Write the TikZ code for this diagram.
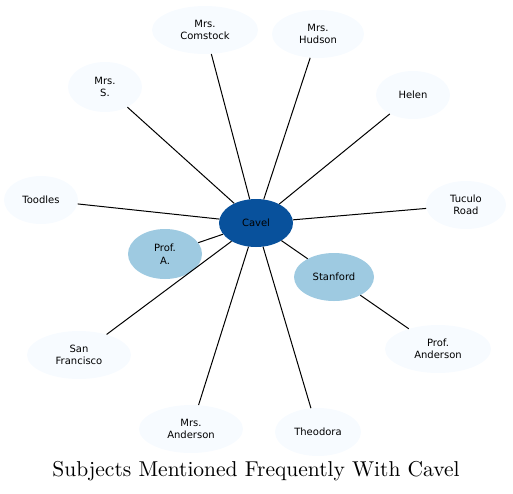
\documentclass[tikz,border=0pt]{standalone}
\usepackage{fontspec}
\newfontfamily\nodefont{DejaVu Sans}
\newfontfamily\titlefont{lmroman10-regular}[Extension=.otf]
\usetikzlibrary{shapes.geometric}
\definecolor{cdark}{HTML}{08519C}
\definecolor{cmid}{HTML}{9ECAE1}
\definecolor{cpale}{HTML}{F7FBFF}
\begin{document}
\begin{tikzpicture}[x=1pt,y=-1pt,
  ent/.style={ellipse,inner sep=0pt,align=center,font=\nodefont\fontsize{10}{12.5}\selectfont,text=black},
  hub/.style={ent,fill=cdark,minimum width=74pt,minimum height=48pt},
  mid/.style={ent,fill=cmid},
  far/.style={ent,fill=cpale},
  link/.style={draw=black,line width=1pt}]
\useasboundingbox (0,0) rectangle (513,493);
\node[hub] (cavel) at (256,223) {Cavel};
\node[mid,minimum width=74pt,minimum height=50pt] (profa) at (165,254) {Prof.\\A.};
\node[mid,minimum width=80pt,minimum height=48pt] (stanford) at (334,277) {Stanford};
\node[far,minimum width=106pt,minimum height=48pt] (comstock) at (205,30) {Mrs.\\Comstock};
\node[far,minimum width=92pt,minimum height=48pt] (hudson) at (318,34) {Mrs.\\Hudson};
\node[far,minimum width=74pt,minimum height=50pt] (mrss) at (105,87) {Mrs.\\S.};
\node[far,minimum width=74pt,minimum height=48pt] (helen) at (413,95) {Helen};
\node[far,minimum width=74pt,minimum height=48pt] (toodles) at (41,200) {Toodles};
\node[far,minimum width=80pt,minimum height=48pt] (tuculo) at (466,205) {Tuculo\\Road};
\node[far,minimum width=104pt,minimum height=48pt] (sanfran) at (79,355) {San\\Francisco};
\node[far,minimum width=106pt,minimum height=48pt] (profand) at (438,349) {Prof.\\Anderson};
\node[far,minimum width=104pt,minimum height=48pt] (mrsand) at (191,429) {Mrs.\\Anderson};
\node[far,minimum width=86pt,minimum height=48pt] (theodora) at (318,432) {Theodora};
\foreach \t in {profa,stanford,comstock,hudson,mrss,helen,toodles,tuculo,sanfran,mrsand,theodora}
  \draw[link] (cavel) -- (\t);
\draw[link] (stanford) -- (profand);
\node[font=\titlefont\fontsize{21.5}{25}\selectfont] (title) at (256,471) {Subjects Mentioned Frequently With Cavel};
\end{tikzpicture}
\end{document}
